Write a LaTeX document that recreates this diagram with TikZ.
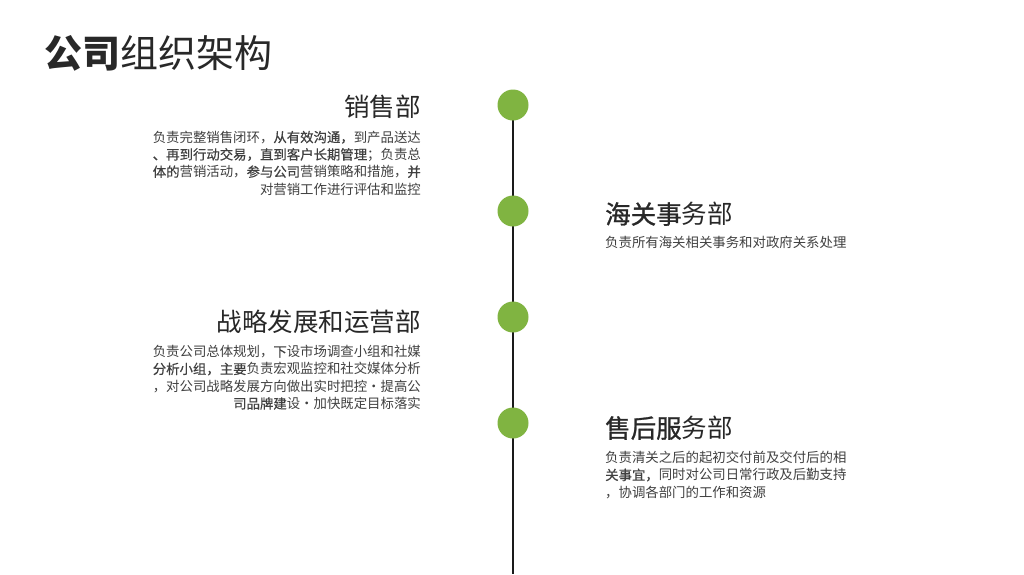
\documentclass[tikz,border=0pt]{standalone}
\usepackage{fontspec}
\setmainfont{Noto Sans CJK SC}
\newfontfamily\cjk{Noto Sans CJK SC}
\newfontfamily\cjkmed[FakeBold=0.45]{Noto Sans CJK SC}
\newfontfamily\cjkhead[FakeBold=1.0]{Noto Sans CJK SC}
\newcommand{\md}[1]{{\cjkmed #1}}
\newcommand{\hd}[1]{{\cjkhead #1}}
\definecolor{dotgreen}{RGB}{128,180,65}
\definecolor{txtdark}{RGB}{40,40,40}
\definecolor{txtbody}{RGB}{64,64,64}
\definecolor{linedark}{RGB}{26,26,26}
\tikzset{
  dept/.style={inner sep=0pt, text=txtdark, font=\cjk\fontsize{25.5}{30}\selectfont},
  bodyL/.style={inner sep=0pt, text=txtbody, align=right, font=\cjk\fontsize{13.4}{17.3}\selectfont},
  bodyR/.style={inner sep=0pt, text=txtbody, align=left, font=\cjk\fontsize{13.4}{17.3}\selectfont},
  dot/.style={circle, fill=dotgreen, draw=none, minimum size=31pt, inner sep=0pt},
  spine/.style={draw=linedark, line width=2.5pt}
}
\begin{document}
\begin{tikzpicture}[x=1pt,y=-1pt]
\useasboundingbox[fill=white] (0,0) rectangle (1024,574);
% title
\node[anchor=west, inner sep=0pt, text=txtdark, font=\cjk\fontsize{38}{43}\selectfont] (title) at (44,53) {\textbf{公司}组织架构};
% timeline
\coordinate (top) at (513,105);
\coordinate (bottom) at (513,574);
\draw[spine] (top) -- (bottom);
\node[dot] (d1) at (top) {};
\node[dot] (d2) at (513,211) {};
\node[dot] (d3) at (513,317) {};
\node[dot] (d4) at (513,423) {};
% department 1
\node[dept, anchor=east] (h1) at (421,107) {销售部};
\node[bodyL, anchor=east] (b1) at (421,163) {负责完整销售闭环，\md{从有效沟通，}到产品送达\\
\md{、再到行动交易，直到客户长期管理}；负责总\\
\md{体的}营销活动，\md{参与公司}营销策略和措施，\hd{并}\\
对营销工作进行评估和监控};
% department 2
\node[dept, anchor=west] (h2) at (605,214) {\hd{海关事}务部};
\node[bodyR, anchor=west] (b2) at (605,242) {负责所有海关相关事务和对政府关系处理};
% department 3
\node[dept, anchor=east] (h3) at (421,322) {战略发展和运营部};
\node[bodyL, anchor=east] (b3) at (421,377.5) {负责公司总体规划，\md{下}设市场调查小组和社媒\\
\md{分析小组，主要}负责宏观监控和社交媒体分析\\
，对公司战略发展方向做出实时把控・提高公\\
\md{司品牌建}设・加快既定目标落实};
% department 4
\node[dept, anchor=west] (h4) at (605,428) {\hd{售后服}务部};
\node[bodyR, anchor=west] (b4) at (605,475) {负责清关之后的起初交付前及交付后的相\\
\md{关事宜，}同时对公司日常行政及后勤支持\\
，协调各部门的工作和资源};
\end{tikzpicture}
\end{document}
